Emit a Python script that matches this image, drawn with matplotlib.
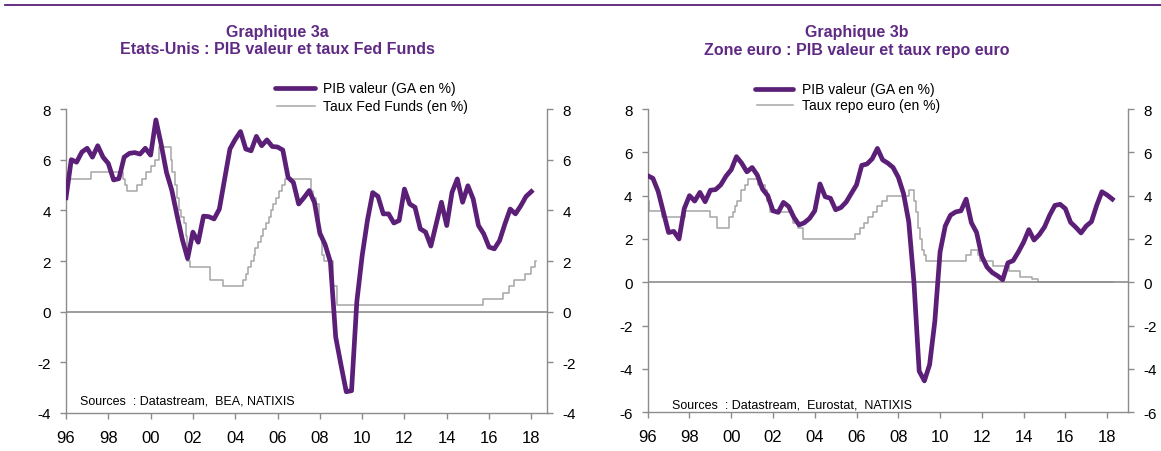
import matplotlib
matplotlib.use('Agg')
import matplotlib.pyplot as plt
from matplotlib.lines import Line2D

plt.rcParams['font.family'] = ['Liberation Sans', 'DejaVu Sans']
plt.rcParams['axes.unicode_minus'] = False

# ---------------- data ----------------
us_start = 1996.0
us_gdp = [4.5, 6.0, 5.9, 6.3, 6.45, 6.1, 6.55, 6.1, 5.85, 5.2, 5.25, 6.1,
          6.25, 6.28, 6.22, 6.45, 6.18, 7.57, 6.6, 5.5, 4.8, 3.8, 2.85, 2.1,
          3.14, 2.74, 3.77, 3.75, 3.66, 4.05, 5.24, 6.42, 6.8, 7.11, 6.42, 6.35,
          6.92, 6.55, 6.78, 6.52, 6.5, 6.38, 5.3, 5.1, 4.25, 4.5, 4.78, 4.3,
          3.1, 2.65, 1.96, -1.0, -2.1, -3.16, -3.12, 0.4, 2.2, 3.6, 4.7, 4.55,
          3.86, 3.86, 3.5, 3.6, 4.84, 4.25, 4.12, 3.27, 3.14, 2.59, 3.46, 4.32,
          3.4, 4.71, 5.24, 4.32, 4.97, 4.45, 3.4, 3.07, 2.55, 2.48, 2.81, 3.46,
          4.05, 3.86, 4.18, 4.55, 4.74]

fed_t = [1996.0, 1996.05, 1997.2, 1998.71, 1998.79, 1998.87, 1999.37, 1999.58,
         1999.78, 2000.0, 2000.2, 2000.41, 2000.96, 2001.03, 2001.15, 2001.25,
         2001.33, 2001.45, 2001.58, 2001.66, 2001.7, 2001.74, 2001.88, 2002.8,
         2003.42, 2004.38, 2004.5, 2004.62, 2004.75, 2004.87, 2004.95, 2005.08,
         2005.2, 2005.33, 2005.45, 2005.58, 2005.7, 2005.8, 2005.92, 2006.05,
         2006.2, 2006.35, 2007.57, 2007.7, 2007.8, 2007.98, 2008.1, 2008.2,
         2008.63, 2008.8, 2015.7, 2016.68, 2016.92, 2017.2, 2017.7, 2017.97,
         2018.17]
fed_v = [5.5, 5.25, 5.5, 5.25, 5.0, 4.75, 5.0, 5.25, 5.5, 5.75, 6.0, 6.5,
         6.0, 5.5, 5.0, 4.5, 4.0, 3.75, 3.5, 3.0, 2.5, 2.0, 1.75, 1.25, 1.0,
         1.25, 1.5, 1.75, 2.0, 2.25, 2.5, 2.75, 3.0, 3.25, 3.5, 3.75, 4.0,
         4.25, 4.5, 4.75, 5.0, 5.25, 4.75, 4.5, 4.25, 3.0, 2.25, 2.0, 1.0,
         0.25, 0.5, 0.75, 1.0, 1.25, 1.5, 1.75, 2.0]
fed_end = 2018.22

ez_start = 1996.0
ez_gdp = [4.92, 4.8, 4.2, 3.25, 2.3, 2.35, 2.0, 3.4, 4.0, 3.75, 4.15, 3.72,
          4.25, 4.28, 4.5, 4.9, 5.2, 5.8, 5.5, 5.1, 5.3, 4.95, 4.3, 4.0,
          3.3, 3.23, 3.69, 3.5, 3.0, 2.65, 2.75, 2.95, 3.3, 4.54, 3.95, 3.88,
          3.35, 3.45, 3.7, 4.1, 4.5, 5.4, 5.46, 5.7, 6.18, 5.65, 5.5, 5.3,
          4.85, 4.1, 2.8, 0.0, -4.1, -4.55, -3.8, -1.8, 1.4, 2.6, 3.1, 3.25,
          3.3, 3.84, 2.75, 2.3, 1.2, 0.7, 0.45, 0.3, 0.12, 0.9, 1.0, 1.4,
          1.85, 2.43, 1.95, 2.2, 2.55, 3.1, 3.55, 3.6, 3.4, 2.77, 2.54, 2.28,
          2.6, 2.8, 3.55, 4.18, 4.03, 3.84]

ecb_t = [1996.0, 1996.04, 1996.68, 1997.79, 1998.99, 1999.31, 1999.87, 2000.07,
         2000.2, 2000.3, 2000.45, 2000.67, 2000.8, 2001.3, 2001.62, 2001.7,
         2001.86, 2002.95, 2003.2, 2003.45, 2005.93, 2006.17, 2006.36, 2006.57,
         2006.77, 2006.97, 2007.2, 2007.45, 2008.5, 2008.77, 2008.85, 2008.93,
         2009.02, 2009.12, 2009.22, 2009.32, 2011.25, 2011.5, 2011.83, 2011.92,
         2012.55, 2013.32, 2013.82, 2014.38, 2014.68]
ecb_v = [3.75, 3.3, 3.0, 3.3, 3.0, 2.5, 3.0, 3.25, 3.5, 3.75, 4.25, 4.5,
         4.75, 4.5, 4.25, 3.75, 3.25, 2.75, 2.5, 2.0, 2.25, 2.5, 2.75, 3.0,
         3.25, 3.5, 3.75, 4.0, 4.25, 3.75, 3.25, 2.5, 2.0, 1.5, 1.25, 1.0,
         1.25, 1.5, 1.25, 1.0, 0.75, 0.5, 0.25, 0.15, 0.0]
ecb_end = 2018.3

year_ticks = list(range(1996, 2019, 2))
year_labels = ['96', '98', '00', '02', '04', '06', '08', '10', '12', '14', '16', '18']

# ---------------- style ----------------
PURPLE = '#5b1f78'
TITLE_C = '#5f2a84'
RATE_C = '#a6a6a6'
AXIS_C = '#8c8c8c'

W, H = 1161, 452
fig = plt.figure(figsize=(W / 100, H / 100), dpi=100)


def fx(px):
    return px / W


def fy(py):
    return 1 - py / H


fig.add_artist(Line2D([fx(5), 1.0], [fy(6), fy(6)], color=PURPLE, lw=1.3))


def quarters(start, n):
    return [start + i * 0.25 for i in range(n)]


def setup(ax, xlim, ylim, yticks):
    ax.set_xlim(*xlim)
    ax.set_ylim(*ylim)
    ax.set_xticks(year_ticks)
    ax.set_xticklabels(year_labels)
    ax.set_yticks(yticks)
    ax.set_yticklabels([str(v) for v in yticks])
    ax.spines['top'].set_visible(False)
    for s in ['left', 'right', 'bottom']:
        ax.spines[s].set_color(AXIS_C)
        ax.spines[s].set_linewidth(1.0)
    ax.tick_params(axis='y', left=True, right=True, labelleft=True,
                   labelright=True, direction='out', length=4, width=1.0,
                   color=AXIS_C, labelsize=11, pad=7, labelcolor='black')
    ax.tick_params(axis='x', direction='out', length=4, width=1.0,
                   color=AXIS_C, labelsize=12, pad=8, labelcolor='black')
    ax.axhline(0, color=AXIS_C, lw=1.2, zorder=2.5)
    ax.patch.set_alpha(0)


def legend(x0, x1, xt, y1, y2, lab1, lab2):
    fig.add_artist(Line2D([fx(x0), fx(x1)], [fy(y1), fy(y1)], color=PURPLE,
                          lw=3.4, solid_capstyle='round'))
    fig.add_artist(Line2D([fx(x0 + 2), fx(x1)], [fy(y2), fy(y2)], color=RATE_C,
                          lw=1.1))
    fig.text(fx(xt), fy(y1), lab1, fontsize=10, va='center', ha='left')
    fig.text(fx(xt), fy(y2), lab2, fontsize=10, va='center', ha='left')


# ---------------- left chart ----------------
axL = fig.add_axes([fx(66), fy(414), fx(547) - fx(66), fy(110) - fy(414)])
setup(axL, (1996, 2018.74), (-4, 8), [-4, -2, 0, 2, 4, 6, 8])
axL.step(fed_t + [fed_end], fed_v + [fed_v[-1]], where='post', color=RATE_C,
         lw=1.1, zorder=2)
axL.plot(quarters(us_start, len(us_gdp)), us_gdp, color=PURPLE, lw=3.4,
         zorder=3, solid_joinstyle='round')
axL.text(fx(80), fy(402), 'Sources  : Datastream,  BEA, NATIXIS',
         transform=fig.transFigure, fontsize=9, va='center', ha='left')

fig.text(fx(277), fy(32), 'Graphique 3a', fontsize=11.5, fontweight='bold',
         color=TITLE_C, ha='center', va='center')
fig.text(fx(277), fy(50), 'Etats-Unis : PIB valeur et taux Fed Funds',
         fontsize=11.5, fontweight='bold', color=TITLE_C, ha='center', va='center')
legend(275, 315, 323, 89, 107, 'PIB valeur (GA en %)', 'Taux Fed Funds (en %)')

# ---------------- right chart ----------------
axR = fig.add_axes([fx(647.7), fy(413.3), fx(1128) - fx(647.7), fy(110) - fy(413.3)])
setup(axR, (1996, 2019), (-6, 8), [-6, -4, -2, 0, 2, 4, 6, 8])
axR.step(ecb_t + [ecb_end], ecb_v + [ecb_v[-1]], where='post', color=RATE_C,
         lw=1.1, zorder=2)
axR.plot(quarters(ez_start, len(ez_gdp)), ez_gdp, color=PURPLE, lw=3.4,
         zorder=3, solid_joinstyle='round')
axR.text(fx(672), fy(406), 'Sources  : Datastream,  Eurostat,  NATIXIS',
         transform=fig.transFigure, fontsize=9, va='center', ha='left')

fig.text(fx(857), fy(32), 'Graphique 3b', fontsize=11.5, fontweight='bold',
         color=TITLE_C, ha='center', va='center')
fig.text(fx(857), fy(50), 'Zone euro : PIB valeur et taux repo euro',
         fontsize=11.5, fontweight='bold', color=TITLE_C, ha='center', va='center')
legend(755, 793, 802, 90, 106, 'PIB valeur (GA en %)', 'Taux repo euro (en %)')

fig.savefig('out.png', dpi=100)
